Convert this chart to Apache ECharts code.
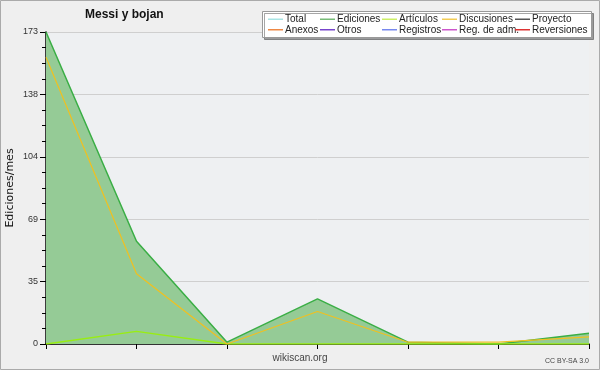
<!DOCTYPE html>
<html><head><meta charset="utf-8">
<script src="https://cdn.jsdelivr.net/npm/echarts@6/dist/echarts.min.js"></script>
<style>html,body{margin:0;padding:0;background:#efefef}#c{width:600px;height:370px}</style>
</head><body><div id="c"></div>
<script>
var categories = ['1','2','3','4','5','6','7'];
var ediciones = [173, 57, 1, 25, 1, 0, 6];
var discusiones = [159, 39, 0, 18, 1, 1, 4];
var articulos = [0, 7, 0, 0, 0, 0, 0];
var yTicks = [0, 35, 69, 104, 138, 173];
var legendCols = [['Total','Anexos'],['Ediciones','Otros'],['Artículos','Registros'],['Discusiones','Reg. de adm.'],['Proyecto','Reversiones']];
var colors = {'Total':'#a8e4e4','Ediciones':'#77bb77','Artículos':'#ccee66','Discusiones':'#f2cc55','Proyecto':'#555555','Anexos':'#ee8844','Otros':'#7744cc','Registros':'#7788ee','Reg. de adm.':'#cc55cc','Reversiones':'#dd3333'};
var colLeft = [268, 320, 382, 442, 515];

var chart = echarts.init(document.getElementById('c'));
var F = 'DejaVu Sans';
var L = 'Liberation Sans';
var series = [];
legendCols.forEach(function(col){ col.forEach(function(n){
  var s = {name:n, type:'line', symbol:'none', data:[], color:colors[n], lineStyle:{width:1}, animation:false};
  if (n==='Ediciones'){ s.data = ediciones; s.z = 2; s.lineStyle = {width:1.5, color:'#3aae45'}; s.areaStyle = {color:'#95cb96', opacity:1}; }
  if (n==='Discusiones'){ s.data = discusiones; s.z = 4; s.lineStyle = {width:1.2, color:'#f0c020'}; }
  if (n==='Artículos'){ s.data = articulos; s.z = 3; s.lineStyle = {width:1.5, color:'#99ee11'}; }
  series.push(s);
});});
var legends = legendCols.map(function(col, i){
  return {orient:'vertical', left:colLeft[i], top:14, itemGap:0, itemWidth:15, itemHeight:1.5, icon:'rect',
    selectedMode:false, padding:0, z:60,
    data:col.map(function(n){return {name:n, itemStyle:{color:colors[n]}};}),
    textStyle:{fontFamily:L, fontSize:10, color:'#222', lineHeight:10.5, padding:[0,0,0,-3]}};
});
chart.setOption({
  backgroundColor:'#efefef',
  animation:false,
  title:{text:'Messi y bojan', left:85, top:9, padding:0, textStyle:{fontFamily:L, fontSize:12, fontWeight:'bold', color:'#111'}},
  graphic:[
    {type:'rect', shape:{x:0.5,y:0.5,width:599,height:369}, style:{fill:'none', stroke:'#aaaaaa', lineWidth:1}, z:-1},
    {type:'rect', shape:{x:262.5,y:11.5,width:329,height:26}, style:{fill:'#ffffff', stroke:'#999999', lineWidth:1, shadowColor:'rgba(0,0,0,0.35)', shadowOffsetX:2, shadowOffsetY:2, shadowBlur:0}, z:50},
    {type:'text', left:'center', top:353, style:{text:'wikiscan.org', font:'10px "Liberation Sans"', fill:'#444'}},
    {type:'text', right:11, top:358, style:{text:'CC BY-SA 3.0', font:'7px "Liberation Sans"', fill:'#444'}}
  ],
  legend:legends,
  grid:{left:46, right:11, top:32, bottom:26, show:true, backgroundColor:'#eef0f2', borderWidth:0, outerBoundsMode:'none', containLabel:false},
  xAxis:{type:'category', data:categories, boundaryGap:false,
    axisLine:{lineStyle:{color:'#000', width:1.5}}, axisTick:{show:true, length:5, lineStyle:{color:'#000'}},
    axisLabel:{show:false}, splitLine:{show:false}},
  yAxis:{type:'value', min:0, max:173, interval:34.6,
    name:'Ediciones/mes', nameLocation:'middle', nameGap:30, nameMoveOverlap:false, nameTextStyle:{fontFamily:F, fontSize:11, color:'#111'},
    axisLine:{show:true, lineStyle:{color:'#000', width:1.5}}, axisTick:{show:true, length:6, lineStyle:{color:'#000'}},
    minorTick:{show:true, splitNumber:4, length:4, lineStyle:{color:'#000'}},
    axisLabel:{fontFamily:L, fontSize:9, color:'#333', margin:8, formatter:function(v){
      var best = yTicks[0]; yTicks.forEach(function(t){ if (Math.abs(t-v)<Math.abs(best-v)) best=t; }); return String(best);}},
    splitLine:{show:true, lineStyle:{color:'#cfcfcf', width:1}}},
  series:series
});
</script></body></html>
